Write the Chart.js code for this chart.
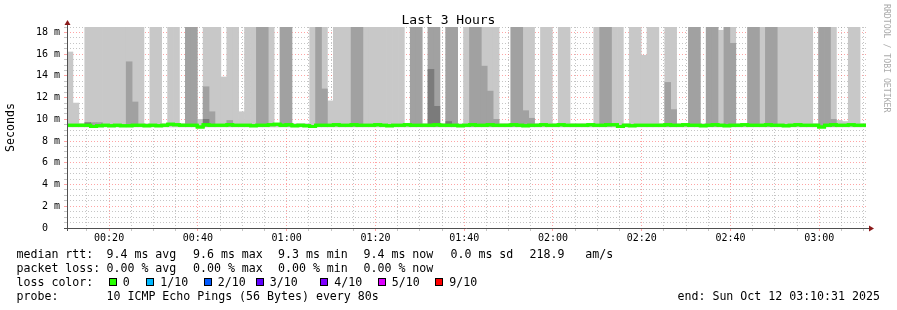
<!DOCTYPE html>
<html>
<head>
<meta charset="utf-8">
<title>Last 3 Hours</title>
<script src="https://cdn.jsdelivr.net/npm/chart.js@4.4.0/dist/chart.umd.min.js"></script>
<style>
  body { margin: 0; background: #fff; }
  #wrap { position: relative; width: 897px; height: 310px; font-family: "DejaVu Sans Mono", monospace; }
  #wrap canvas { display: block; }
  .txt { position: absolute; font-size: 11.6px; line-height: 14px; white-space: pre; color: #000; }
  .box { position: absolute; width: 6px; height: 6px; border: 1px solid #000; }
  #title { position: absolute; left: 0; top: 12px; width: 897px; text-align: center; font-size: 13px; line-height: 16px; }
  #credit { position: absolute; left: 882px; top: 4px; writing-mode: vertical-rl; font-size: 8.2px; line-height: 9px; color: #aaa; white-space: pre; }
</style>
</head>
<body>
<div id="wrap">
  <canvas id="chart" width="897" height="310"></canvas>
  <div id="title">Last 3 Hours</div>
  <div id="credit">RRDTOOL / TOBI OETIKER</div>
</div>
<script>
// time frame: 3 hours ending 03:10:31, one column per 80 s probe round
const startSec = 10 * 60 + 31;
const spanMin = 180;
const stepMin = 80 / 60;

// upper edge of the light smoke (ms), 18.5 = clipped at the top
const lightTop = [
  16.2, 11.5, 9.6, 18.5, 18.5, 18.5, 18.5, 18.5, 18.5, 18.5,
  18.5, 18.5, 18.5, 9.6, 18.5, 18.5, 9.6, 18.5, 18.5, 9.6,
  18.5, 18.5, 10.0, 18.5, 18.5, 18.5, 13.9, 18.5, 18.5, 10.7,
  18.5, 18.5, 18.5, 18.5, 18.5, 9.6, 18.5, 18.5, 9.6, 9.6,
  9.6, 18.5, 18.5, 18.5, 11.7, 18.5, 18.5, 18.5, 18.5, 18.5,
  18.5, 18.5, 18.5, 18.5, 18.5, 18.5, 18.5, 9.6, 18.5, 18.5,
  9.6, 18.5, 18.5, 9.6, 18.5, 18.5, 9.6, 18.5, 18.5, 18.5,
  18.5, 18.5, 18.5, 9.6, 9.6, 18.5, 18.5, 18.5, 18.5, 9.6,
  18.5, 18.5, 9.6, 18.5, 18.5, 9.6, 9.6, 9.6, 9.6, 18.5,
  18.5, 18.5, 18.5, 18.5, 9.6, 18.5, 18.5, 15.9, 18.5, 18.5,
  9.6, 18.5, 18.5, 9.6, 9.6, 18.5, 18.5, 9.6, 18.5, 18.5,
  18.2, 18.5, 18.5, 9.6, 9.6, 18.5, 18.5, 18.5, 18.5, 18.5,
  18.5, 18.5, 18.5, 18.5, 18.5, 18.5, 9.6, 18.5, 18.5, 18.5,
  9.9, 9.8, 18.5, 18.5, 9.6
];

// upper edge of the medium smoke
const midTop = [
  null, null, null, null, 9.7, 9.7, null, null, null, null,
  15.3, 11.6, null, null, null, null, null, null, null, null,
  18.5, 18.5, null, 13.0, 10.7, null, null, 9.9, null, null,
  null, null, 18.5, 18.5, null, null, 18.5, 18.5, null, null,
  null, null, 18.5, 12.8, null, null, null, null, 18.5, 18.5,
  null, null, null, null, null, null, null, null, 18.5, 18.5,
  null, 18.5, 18.5, null, 18.5, 18.5, null, null, 18.5, 18.5,
  14.9, 12.6, 10.0, null, null, 18.5, 18.5, 10.8, 10.1, null,
  null, null, null, null, null, null, null, null, null, null,
  18.5, 18.5, null, null, null, null, null, null, null, null,
  null, 13.4, 10.9, null, null, 18.5, 18.5, null, 18.5, 18.5,
  null, 18.5, 17.0, null, null, 18.5, 18.5, null, 18.5, 18.5,
  null, null, null, null, null, null, null, 18.5, 18.5, 10.0,
  null, null, null, null, null
];

// upper edge of the dark smoke
const darkTop = [
  null, null, null, 9.7, null, null, null, null, null, null,
  null, null, null, null, null, null, null, null, null, null,
  null, null, null, 10.0, null, null, null, null, null, null,
  null, null, null, null, null, null, null, null, null, null,
  null, null, null, null, null, null, null, null, null, null,
  null, null, null, null, null, null, null, null, null, null,
  null, 14.6, 11.2, null, 9.8, null, null, null, null, null,
  null, null, null, null, null, null, null, null, null, null,
  null, null, null, null, null, null, null, null, null, null,
  null, null, null, null, null, null, null, null, null, null,
  null, null, null, null, null, null, null, null, null, null,
  null, null, null, null, null, null, null, null, null, null,
  null, null, null, null, null, null, null, null, null, null,
  null, null, null, null, null
];

// median rtt (ms)
const median = [
  9.45, 9.45, 9.45, 9.45, 9.35, 9.4, 9.45, 9.4, 9.45, 9.4,
  9.4, 9.45, 9.45, 9.4, 9.45, 9.4, 9.45, 9.55, 9.5, 9.45,
  9.45, 9.45, 9.3, 9.5, 9.45, 9.45, 9.45, 9.5, 9.45, 9.45,
  9.45, 9.4, 9.45, 9.45, 9.5, 9.55, 9.45, 9.5, 9.4, 9.45,
  9.4, 9.35, 9.45, 9.45, 9.45, 9.5, 9.45, 9.45, 9.5, 9.45,
  9.45, 9.45, 9.5, 9.45, 9.4, 9.45, 9.45, 9.5, 9.45, 9.45,
  9.45, 9.45, 9.5, 9.45, 9.45, 9.45, 9.4, 9.45, 9.5, 9.45,
  9.45, 9.5, 9.45, 9.45, 9.45, 9.5, 9.45, 9.4, 9.45, 9.45,
  9.5, 9.45, 9.45, 9.5, 9.45, 9.45, 9.45, 9.45, 9.5, 9.45,
  9.45, 9.5, 9.5, 9.35, 9.45, 9.4, 9.45, 9.45, 9.45, 9.45,
  9.45, 9.5, 9.45, 9.45, 9.5, 9.45, 9.45, 9.4, 9.45, 9.5,
  9.45, 9.4, 9.45, 9.45, 9.5, 9.45, 9.45, 9.45, 9.5, 9.45,
  9.45, 9.4, 9.45, 9.5, 9.45, 9.45, 9.45, 9.3, 9.45, 9.5,
  9.45, 9.45, 9.5, 9.45, 9.45
];

const smokeFloor = [9.3, 9.35, 9.4];          // light, medium, dark
const smokeColors = ['#c8c8c8', '#a1a1a1', '#7b7b7b'];

const yTicks = [];
for (let v = 0; v <= 18.5; v += 0.5) yTicks.push(v);
const xTicks = [];
for (let m = Math.ceil(startSec / 300) * 5; m * 60 <= startSec + spanMin * 60; m += 5) {
  xTicks.push((m * 60 - startSec) / 60);
}

const lossLabels = ['0', '1/10', '2/10', '3/10', '4/10', '5/10', '9/10'];
const lossColors = ['#26ff00', '#00b8ff', '#0059ff', '#5e00ff', '#7e00ff', '#dd00ff', '#ff0000'];

const FONT = '"DejaVu Sans Mono", monospace';
const MAJOR = 'rgba(255, 90, 90, 0.55)';
const MINOR = 'rgba(140, 140, 140, 0.5)';

function clockOf(v) {
  const min = Math.round((startSec + v * 60) / 60) % 1440;
  return String(Math.floor(min / 60)).padStart(2, '0') + ':' + String(min % 60).padStart(2, '0');
}
function isMajorX(v) {
  return Math.round((startSec + v * 60) / 60) % 20 === 0;
}

// floating bars [floor, top] for one smoke layer
function band(tops, floor) {
  const pts = [];
  tops.forEach((t, i) => {
    if (t !== null) pts.push({ x: (i + 0.5) * stepMin, y: [floor, t] });
  });
  return pts;
}

const medianPts = median.map((v, i) => ({ x: i * stepMin, y: v }));
medianPts.push({ x: spanMin, y: median[median.length - 1] });

// axis lines with the rrdtool arrows, median redrawn above the grid
const axisArrows = {
  id: 'axisArrows',
  afterDraw(chart) {
    const { ctx, chartArea: a } = chart;
    chart.getDatasetMeta(0).controller.draw();
    ctx.save();
    ctx.strokeStyle = '#505050';
    ctx.lineWidth = 1;
    ctx.beginPath();
    ctx.moveTo(a.left + 0.5, a.bottom + 3);
    ctx.lineTo(a.left + 0.5, a.top - 3);
    ctx.moveTo(a.left - 3, a.bottom + 0.5);
    ctx.lineTo(a.right + 3, a.bottom + 0.5);
    ctx.stroke();
    ctx.fillStyle = '#8b1a1a';
    ctx.beginPath();
    ctx.moveTo(a.left + 0.5, a.top - 7);
    ctx.lineTo(a.left - 2.5, a.top - 2);
    ctx.lineTo(a.left + 3.5, a.top - 2);
    ctx.fill();
    ctx.beginPath();
    ctx.moveTo(a.right + 8, a.bottom + 0.5);
    ctx.lineTo(a.right + 3, a.bottom - 2.5);
    ctx.lineTo(a.right + 3, a.bottom + 3.5);
    ctx.fill();
    ctx.restore();
  }
};

const barDefaults = { grouped: false, barPercentage: 1, categoryPercentage: 1, borderWidth: 0 };

new Chart(document.getElementById('chart'), {
  type: 'bar',
  data: {
    datasets: [
      {
        type: 'line',
        label: 'median rtt',
        data: medianPts,
        borderColor: lossColors[0],
        borderWidth: 3,
        pointRadius: 0,
        stepped: true,
        fill: false
      },
      Object.assign({ label: 'smoke dark', data: band(darkTop, smokeFloor[2]), backgroundColor: smokeColors[2] }, barDefaults),
      Object.assign({ label: 'smoke medium', data: band(midTop, smokeFloor[1]), backgroundColor: smokeColors[1] }, barDefaults),
      Object.assign({ label: 'smoke light', data: band(lightTop, smokeFloor[0]), backgroundColor: smokeColors[0] }, barDefaults)
    ]
  },
  options: {
    responsive: false,
    animation: false,
    layout: { padding: { top: 27, right: 31, left: 0, bottom: 0 } },
    plugins: {
      legend: { display: false },
      tooltip: { enabled: false },
      title: { display: false }
    },
    scales: {
      x: {
        type: 'linear',
        min: 0,
        max: spanMin,
        offset: false,
        z: 1,
        afterBuildTicks: s => { s.ticks = xTicks.map(v => ({ value: v })); },
        afterFit: s => { s.height = 82; },
        grid: {
          offset: false,
          color: c => isMajorX(c.tick.value) ? MAJOR : MINOR,
          tickColor: c => isMajorX(c.tick.value) ? MAJOR : MINOR,
          tickLength: 3
        },
        border: { display: false, dash: [1, 2] },
        ticks: {
          autoSkip: false,
          maxRotation: 0,
          padding: 1,
          color: '#000',
          font: { family: FONT, size: 10 },
          callback: v => isMajorX(v) ? clockOf(v) : ''
        }
      },
      y: {
        min: 0,
        max: 18.5,
        z: 1,
        afterBuildTicks: s => { s.ticks = yTicks.map(v => ({ value: v })); },
        afterFit: s => { s.width = 67; },
        grid: {
          color: c => c.tick.value % 2 === 0 ? MAJOR : MINOR,
          tickColor: c => c.tick.value % 2 === 0 ? MAJOR : MINOR,
          tickLength: 3
        },
        border: { display: false, dash: [1, 2] },
        ticks: {
          autoSkip: false,
          padding: 4,
          color: '#000',
          font: { family: FONT, size: 10 },
          callback: v => v % 2 === 0 ? (v === 0 ? '0  ' : v + ' m') : ''
        },
        title: {
          display: true,
          text: 'Seconds',
          color: '#000',
          font: { family: FONT, size: 11.6 },
          padding: { top: 4, bottom: 0 }
        }
      }
    }
  },
  plugins: [axisArrows]
});

// legend block under the graph
const wrap = document.getElementById('wrap');
function put(text, x, y) {
  const d = document.createElement('div');
  d.className = 'txt';
  d.style.left = x + 'px';
  d.style.top = y + 'px';
  d.textContent = text;
  wrap.appendChild(d);
}
const rowTop = [247.3, 261.3, 275.3, 289.3];
const colX = [106.5, 193, 278, 363.5];

put('median rtt:', 16.5, rowTop[0]);
['9.4 ms avg', '9.6 ms max', '9.3 ms min', '9.4 ms now'].forEach((t, i) => put(t, colX[i], rowTop[0]));
put('0.0 ms sd', 450.5, rowTop[0]);
put('218.9   am/s', 529.5, rowTop[0]);

put('packet loss:', 16.5, rowTop[1]);
['0.00 % avg', '0.00 % max', '0.00 % min', '0.00 % now'].forEach((t, i) => put(t, colX[i], rowTop[1]));

put('loss color:', 16.5, rowTop[2]);
const boxX = [108.5, 146, 203.5, 255.5, 320, 377.5, 435];
lossLabels.forEach((lab, i) => {
  const b = document.createElement('div');
  b.className = 'box';
  b.style.left = boxX[i] + 'px';
  b.style.top = '278px';
  b.style.background = lossColors[i];
  wrap.appendChild(b);
  put(lab, boxX[i] + 14.3, rowTop[2]);
});

put('probe:', 16.5, rowTop[3]);
put('10 ICMP Echo Pings (56 Bytes) every 80s', 106.5, rowTop[3]);
put('end: Sun Oct 12 03:10:31 2025', 677.5, rowTop[3]);
</script>
</body>
</html>
